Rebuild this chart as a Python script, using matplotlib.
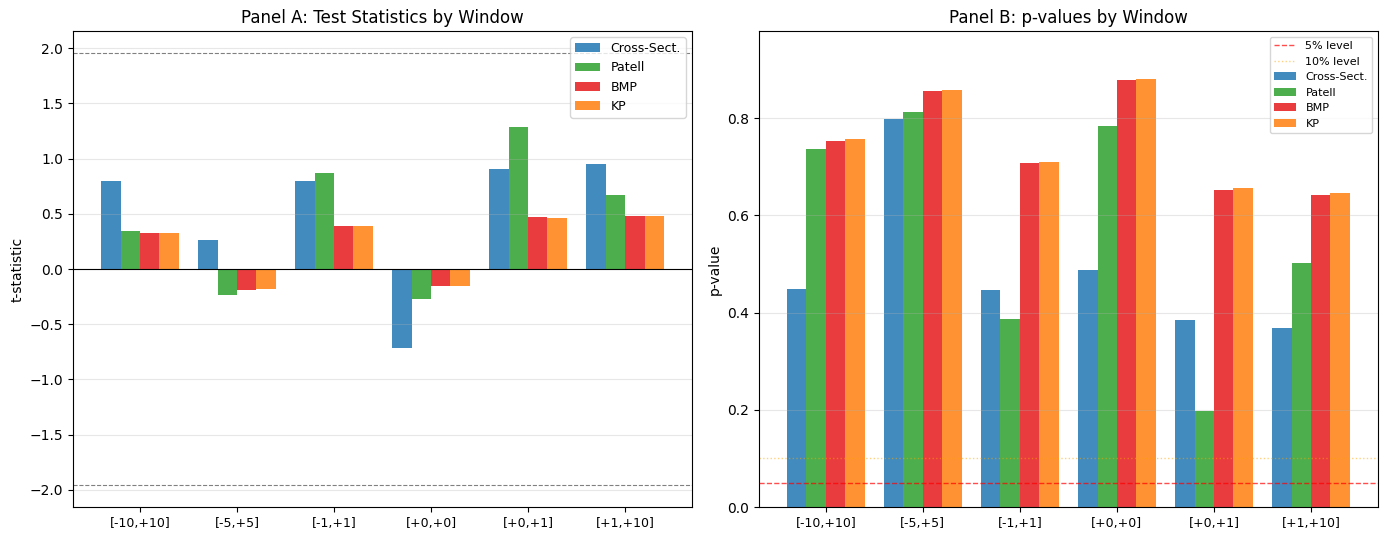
"""Event-study test statistics and p-values by event window (two panels)."""
import matplotlib

matplotlib.use("Agg")
import matplotlib.pyplot as plt
import numpy as np

WINDOWS = ["[-10,+10]", "[-5,+5]", "[-1,+1]", "[+0,+0]", "[+0,+1]", "[+1,+10]"]
TESTS = ["Cross-Sect.", "Patell", "BMP", "KP"]
COLORS = ["#1f77b4", "#2ca02c", "#e41a1c", "#ff7f0e"]

# t-statistics per test, one value per window
t_cross = [0.80, 0.26, 0.80, -0.72, 0.91, 0.95]
t_patell = [0.34, -0.235, 0.87, -0.27, 1.29, 0.67]
t_bmp = [0.326, -0.19, 0.39, -0.155, 0.47, 0.48]
t_kp = [0.326, -0.18, 0.39, -0.155, 0.46, 0.48]

# p-values per test
p_cross = [0.448, 0.799, 0.446, 0.487, 0.385, 0.368]
p_patell = [0.736, 0.812, 0.387, 0.784, 0.198, 0.502]
p_bmp = [0.753, 0.855, 0.707, 0.878, 0.652, 0.642]
p_kp = [0.757, 0.858, 0.709, 0.880, 0.656, 0.646]

CRIT_T = 1.96
BAR_W = 0.2

t_stats = [t_cross, t_patell, t_bmp, t_kp]
p_vals = [p_cross, p_patell, p_bmp, p_kp]

x = np.arange(len(WINDOWS))
fig, (ax1, ax2) = plt.subplots(1, 2, figsize=(13.89, 5.4))
fig.subplots_adjust(left=0.0526, right=0.992, top=0.9426, bottom=0.0611, wspace=0.108)

# Panel A
for i, (name, vals, c) in enumerate(zip(TESTS, t_stats, COLORS)):
    ax1.bar(x + (i - 1.5) * BAR_W, vals, BAR_W, color=c, alpha=0.85, label=name)
ax1.axhline(0, color="black", lw=0.8)
ax1.axhline(CRIT_T, color="gray", ls="--", lw=0.8)
ax1.axhline(-CRIT_T, color="gray", ls="--", lw=0.8)
ax1.set_xticks(x)
ax1.set_xticklabels(WINDOWS, fontsize=9)
ax1.set_ylabel("t-statistic")
ax1.set_title("Panel A: Test Statistics by Window", fontsize=12)
ax1.legend(loc="upper right", fontsize=9)
ax1.grid(axis="y", alpha=0.3)

# Panel B
ax2.axhline(0.05, color="red", ls="--", lw=1, alpha=0.7, label="5% level")
ax2.axhline(0.10, color="orange", ls=":", lw=1, alpha=0.5, label="10% level")
for i, (name, vals, c) in enumerate(zip(TESTS, p_vals, COLORS)):
    ax2.bar(x + (i - 1.5) * BAR_W, vals, BAR_W, color=c, alpha=0.85, label=name)
ax2.set_xticks(x)
ax2.set_xticklabels(WINDOWS, fontsize=9)
ax2.set_ylabel("p-value")
ax2.set_ylim(0, 0.979)
ax2.set_title("Panel B: p-values by Window", fontsize=12)
ax2.legend(loc="upper right", fontsize=8)
ax2.grid(axis="y", alpha=0.3)

plt.savefig("out.png", dpi=100)
plt.close()
